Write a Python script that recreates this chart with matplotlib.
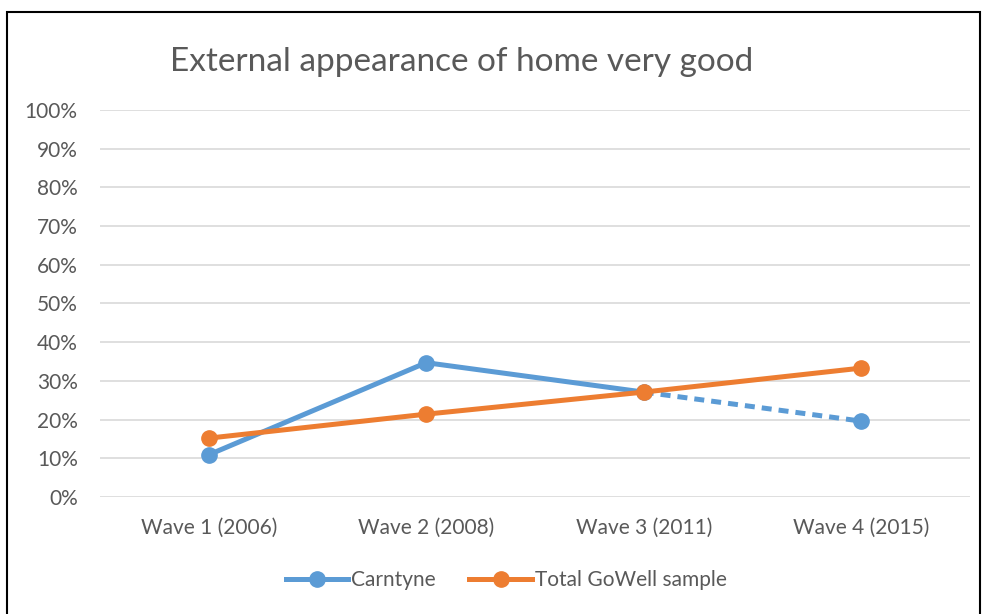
import matplotlib.pyplot as plt
from matplotlib.lines import Line2D
from matplotlib.patches import Rectangle
from matplotlib.ticker import PercentFormatter

plt.rcParams['font.family'] = ['Lato', 'DejaVu Sans']

# data
waves = ['Wave 1 (2006)', 'Wave 2 (2008)', 'Wave 3 (2011)', 'Wave 4 (2015)']
carntyne = [10.9, 34.7, 27.1, 19.6]
total_gowell = [15.2, 21.4, 27.1, 33.3]

blue = '#5B9BD5'
orange = '#ED7D31'
grey = '#595959'

fig = plt.figure(figsize=(9.87, 6.14), dpi=100)
ax = fig.add_axes([0.1013, 0.1906, 0.8815, 0.6303])

x = list(range(len(waves)))

# Carntyne: solid up to wave 3, dashed to wave 4
ax.plot(x[:3], carntyne[:3], color=blue, lw=3.6, solid_capstyle='round', zorder=3)
ax.plot(x[2:], carntyne[2:], color=blue, lw=3.6, ls=(0, (2.0, 1.4)), zorder=3)
ax.plot(x, carntyne, ls='none', marker='o', ms=11, color=blue, zorder=4)

ax.plot(x, total_gowell, color=orange, lw=3.6, marker='o', ms=11,
        solid_capstyle='round', zorder=5)

ax.set_xlim(-0.5, 3.5)
ax.set_ylim(0, 100)
ax.set_yticks(range(0, 101, 10))
ax.yaxis.set_major_formatter(PercentFormatter(decimals=0))
ax.set_xticks(x)
ax.set_xticklabels(waves)
ax.grid(axis='y', color='#D9D9D9', lw=1.2)
ax.set_axisbelow(True)
for s in ax.spines.values():
    s.set_visible(False)
ax.tick_params(length=0, colors=grey, labelsize=15)
ax.tick_params(axis='x', pad=15)
ax.tick_params(axis='y', pad=16)

fig.text(0.468, 1 - 62 / 614, 'External appearance of home very good',
         ha='center', va='center', fontsize=24, color=grey)

handles = [Line2D([], [], color=blue, lw=3.6, marker='o', ms=11),
           Line2D([], [], color=orange, lw=3.6, marker='o', ms=11)]
fig.legend(handles, ['Carntyne', 'Total GoWell sample'], loc='center',
           bbox_to_anchor=(0.513, 1 - 580 / 614), ncol=2, frameon=False,
           fontsize=15, labelcolor=grey, handlelength=3.0, handletextpad=0.15,
           columnspacing=1.6)

fig.patches.append(Rectangle((7 / 987, -0.01), 973 / 987, 1 - 12 / 614 + 0.01,
                             transform=fig.transFigure, fill=False,
                             edgecolor='black', lw=1.5))

fig.savefig('out.png', dpi=100, facecolor='white')
